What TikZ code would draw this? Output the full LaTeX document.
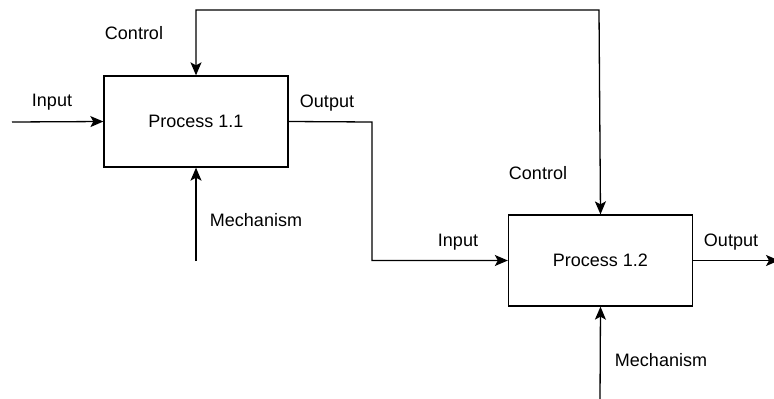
\documentclass[tikz,border=0pt]{standalone}
\usepackage{fontspec}
\setmainfont{Liberation Sans}
\usetikzlibrary{arrows.meta}
\begin{document}
\begin{tikzpicture}[x=1pt,y=-1pt,
  procbox/.style={draw=black, line width=1.3pt, minimum width=184pt, minimum height=91pt, inner sep=0pt, font=\fontsize{18}{21}\selectfont},
  lbl/.style={font=\fontsize{18}{21}\selectfont, inner sep=0pt},
  conn/.style={line width=1.3pt, -{Stealth[length=13pt,width=11pt,inset=3pt]}},
  conn2/.style={line width=1.3pt, {Stealth[length=13pt,width=11pt,inset=3pt]}-{Stealth[length=13pt,width=11pt,inset=3pt]}}]
\useasboundingbox (0,0) rectangle (774,399);
\node[procbox] (b1) at (196,121.5) {Process 1.1};
\node[procbox] (b2) at (600.5,260.5) {Process 1.2};
\coordinate (in1) at (12,122);
\coordinate (topl) at (196,10);
\coordinate (topr) at (599,10);
\coordinate (mid) at (372,122);
\coordinate (mech1) at (196,261);
\coordinate (mech2) at (600,401);
\coordinate (out2) at (779,260.5);
\draw[conn] (in1) -- (b1.west);
\draw[conn2] (b1.north) -- (topl) -- (topr) -- (b2.north);
\draw[conn] (b1.east) -- (mid) |- (b2.west);
\draw[conn] (mech1) -- (b1.south);
\draw[conn] (mech2) -- (b2.south);
\draw[conn] (b2.east) -- (out2);
\node[lbl] (lin1) at (52,102) {Input};
\node[lbl] (lctl1) at (134,33) {Control};
\node[lbl] (lout1) at (327,103) {Output};
\node[lbl] (lmech1) at (256,220) {Mechanism};
\node[lbl] (lctl2) at (538,173) {Control};
\node[lbl] (lin2) at (458,242) {Input};
\node[lbl] (lout2) at (731,242) {Output};
\node[lbl] (lmech2) at (661,360) {Mechanism};
\end{tikzpicture}
\end{document}
